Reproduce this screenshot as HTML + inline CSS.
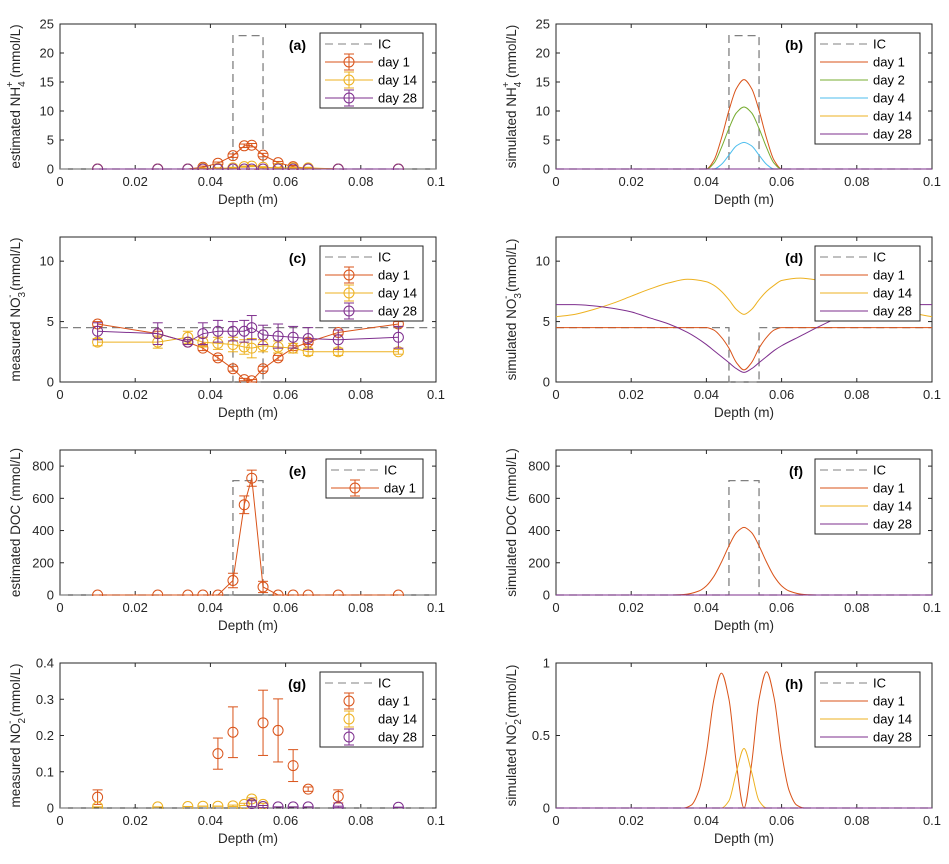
<!DOCTYPE html>
<html><head><meta charset="utf-8"><style>
body{margin:0;background:#fff}
svg{display:block;font-family:"Liberation Sans",sans-serif}
</style></head><body>
<svg id="fig" width="949" height="864" viewBox="0 0 949 864"></svg>
<script>
// ---------- data ----------
const depth = [0.01,0.026,0.034,0.038,0.042,0.046,0.049,0.051,0.054,0.058,0.062,0.066,0.074,0.09];
const icX = [0,0.046,0.046,0.054,0.054,0.1];
const icNH4 = [0,0,23,23,0,0];
const icNO3 = [4.5,4.5,0,0,4.5,4.5];
const icDOC = [0,0,710,710,0,0];
const icNO2 = [0,0,0,0,0,0];
// (a)
const aDay1 = [0,0,0,0.3,1.0,2.3,4.0,4.1,2.4,1.1,0.4,0.1,0,0];
const aDay1Err = [0,0,0,0.2,0.2,0.3,0.3,0.3,0.3,0.2,0.2,0.1,0,0];
const aDay14 = [0,0,0,0.1,0.1,0.2,0.4,0.5,0.3,0.2,0.2,0.2,0,0];
const aDay14Err = [0,0,0,0.1,0.1,0.1,0.1,0.1,0.1,0.1,0.1,0.1,0,0];
const aDay28 = [0,0,0,0,0,0,0,0,0,0,0,0,0,0];
const aDay28Err = [0,0,0,0,0,0,0,0,0,0,0,0,0,0];
// (c)
const cDay1 = [4.8,4.0,3.3,2.8,2.0,1.1,0.2,0.1,1.1,2.0,2.8,3.3,4.1,4.8];
const cDay1Err = [0.2,0.2,0.2,0.2,0.2,0.2,0.1,0.1,0.2,0.2,0.2,0.2,0.2,0.2];
const cDay14 = [3.3,3.3,3.7,3.3,3.2,3.1,2.9,2.8,3.0,2.9,2.8,2.5,2.5,2.5];
const cDay14Err = [0.3,0.5,0.5,0.4,0.5,0.6,0.6,0.8,0.5,0.5,0.4,0.3,0.3,0.2];
const cDay28 = [4.2,4.0,3.3,4.0,4.2,4.2,4.2,4.5,3.9,3.8,3.7,3.6,3.5,3.7];
const cDay28Err = [0.7,0.9,0.2,0.9,0.9,0.8,0.9,1.0,0.8,1.0,0.9,0.9,0.8,0.9];
// (e)
const eDay1 = [0,0,0,0,0,90,560,725,50,0,0,0,0,0];
const eDay1Err = [0,0,0,0,0,45,55,50,35,0,0,0,0,0];
// (g)
const gDay1X = [0.01,0.042,0.046,0.054,0.058,0.062,0.066,0.074];
const gDay1 = [0.03,0.15,0.209,0.235,0.214,0.117,0.052,0.032];
const gDay1Err = [0.02,0.043,0.07,0.09,0.087,0.044,0.006,0.018];
const gDay14X = [0.01,0.026,0.034,0.038,0.042,0.046,0.049,0.051,0.054];
const gDay14 = [0.003,0.003,0.004,0.005,0.005,0.006,0.01,0.025,0.01];
const gDay14Err = [0,0,0,0,0,0.002,0.003,0.003,0.003];
const gDay28X = [0.051,0.054,0.058,0.062,0.066,0.074,0.09];
const gDay28 = [0.012,0.004,0.003,0.003,0.003,0.003,0.002];
const gDay28Err = [0.008,0.003,0,0,0,0.002,0];
// (b)
const bX = [0,0.04,0.042,0.044,0.046,0.048,0.05,0.052,0.054,0.056,0.058,0.06,0.1];
const bDay1 = [0,0,1.5,5.3,10.1,13.9,15.4,13.9,10.1,5.3,1.5,0,0];
const bDay2 = [0,0,1.0,3.7,7.0,9.7,10.7,9.7,7.0,3.7,1.0,0,0];
const bDay4 = [0,0,0,0.8,2.4,4.0,4.6,4.0,2.4,0.8,0,0,0];
const flatX = [0,0.1];
const flatZero = [0,0];
// (d)
const dX = [0,0.005,0.01,0.015,0.02,0.025,0.03,0.035,0.04,0.042,0.044,0.046,0.048,0.05,0.052,0.054,0.056,0.058,0.06,0.065,0.07,0.075,0.08,0.085,0.09,0.095,0.1];
const dDay1 = [4.5,4.5,4.5,4.5,4.5,4.5,4.5,4.5,4.5,4.3,3.7,2.8,1.6,1.0,1.6,2.8,3.7,4.3,4.5,4.5,4.5,4.5,4.5,4.5,4.5,4.5,4.5];
const dDay14 = [5.4,5.6,6.0,6.5,7.1,7.7,8.2,8.5,8.3,8.0,7.5,6.8,6.0,5.6,6.0,6.8,7.5,8.0,8.4,8.6,8.4,8.0,7.4,6.8,6.2,5.7,5.4];
const dDay28 = [6.4,6.4,6.3,6.1,5.8,5.3,4.8,4.1,3.1,2.6,2.1,1.6,1.1,0.8,1.1,1.6,2.1,2.6,3.0,3.8,4.6,5.3,5.8,6.1,6.3,6.4,6.4];
// (f)
const fX = [0,0.03,0.034,0.038,0.04,0.042,0.044,0.046,0.048,0.05,0.052,0.054,0.056,0.058,0.06,0.062,0.066,0.07,0.1];
const fDay1 = [0,0,3,25,57,116,204,305,388,420,388,305,204,116,57,25,3,0,0];
// (h)
const hX = [0,0.034,0.036,0.038,0.04,0.042,0.044,0.046,0.048,0.05,0.052,0.054,0.056,0.058,0.06,0.062,0.064,0.066,0.1];
const hDay1 = [0,0,0.02,0.12,0.38,0.75,0.93,0.75,0.3,0.0,0.3,0.75,0.94,0.76,0.38,0.12,0.02,0,0];
const hDay14X = [0,0.044,0.046,0.048,0.05,0.052,0.054,0.056,0.1];
const hDay14 = [0,0,0.05,0.25,0.41,0.25,0.05,0,0];
const xTicks = [0,0.02,0.04,0.06,0.08,0.1];
const xTickLabels = ["0","0.02","0.04","0.06","0.08","0.1"];

const C1='#D95319',C2='#77AC30',C4='#4DBEEE',C14='#EDB120',C28='#7E2F8E',CIC='#808080';
const NS='http://www.w3.org/2000/svg';
const svg=document.getElementById('fig');
function mk(tag,attrs,parent){const e=document.createElementNS(NS,tag);for(const k in attrs)e.setAttribute(k,attrs[k]);(parent||svg).appendChild(e);return e;}

// monotone cubic (Fritsch-Carlson) – no overshoot
function smoothPath(pts){
  const n=pts.length;
  if(n<3)return 'M'+pts.map(q=>q[0]+','+q[1]).join('L');
  const dx=[],dy=[],m=[];
  for(let i=0;i<n-1;i++){dx.push(pts[i+1][0]-pts[i][0]);dy.push(pts[i+1][1]-pts[i][1]);m.push(dy[i]/dx[i]);}
  const t=[m[0]];
  for(let i=1;i<n-1;i++){
    if(m[i-1]*m[i]<=0)t.push(0);
    else{const w1=2*dx[i]+dx[i-1],w2=dx[i]+2*dx[i-1];t.push((w1+w2)/(w1/m[i-1]+w2/m[i]));}
  }
  t.push(m[n-2]);
  let d='M'+pts[0][0].toFixed(2)+','+pts[0][1].toFixed(2);
  for(let i=0;i<n-1;i++){
    const h=dx[i]/3;
    d+='C'+(pts[i][0]+h).toFixed(2)+','+(pts[i][1]+t[i]*h).toFixed(2)+' '+(pts[i+1][0]-h).toFixed(2)+','+(pts[i+1][1]-t[i+1]*h).toFixed(2)+' '+pts[i+1][0].toFixed(2)+','+pts[i+1][1].toFixed(2);
  }
  return d;
}

function panel(p){
  const L=p.left,T=p.top,W=376,H=145;
  const g=mk('g',{});
  
  
  const sx=v=>L+v/0.1*W, sy=v=>T+H-v/p.ymax*H;
  const clip='clip-'+p.id;
  const cp=mk('clipPath',{id:clip},g);mk('rect',{x:L-1,y:T-1,width:W+2,height:H+2},cp);
  mk('rect',{x:L,y:T,width:W,height:H,fill:'#fff',stroke:'#262626','stroke-width':1},g);
  const ax=mk('g',{stroke:'#262626','stroke-width':1},g);
  
  
  xTicks.forEach((v,i)=>{
    const x=sx(v);
    mk('line',{x1:x,x2:x,y1:T+H,y2:T+H-4},ax);mk('line',{x1:x,x2:x,y1:T,y2:T+4},ax);
    const t=mk('text',{x:x,y:T+H+17,'text-anchor':'middle','font-size':13,fill:'#262626',stroke:'none'},g);
    t.textContent=xTickLabels[i];
    
    
  });
  p.yticks.forEach((v,i)=>{
    const y=sy(v);
    mk('line',{x1:L,x2:L+4,y1:y,y2:y},ax);mk('line',{x1:L+W,x2:L+W-4,y1:y,y2:y},ax);
    const t=mk('text',{x:L-6,y:y+4.5,'text-anchor':'end','font-size':13,fill:'#262626',stroke:'none'},g);
    t.textContent=p.ylabels[i];
    
    
  });
  const xl=mk('text',{x:L+W/2,y:T+H+35,'text-anchor':'middle','font-size':13.5,fill:'#262626'},g);
  xl.textContent='Depth (m)';
  
  
  const yl=mk('text',{x:0,y:0,'text-anchor':'middle','font-size':13.5,fill:'#262626',transform:'translate('+(L-40)+','+(T+H/2)+') rotate(-90)'},g);
  yl.innerHTML=p.ylab;
  
  
  const sg=mk('g',{'clip-path':'url(#'+clip+')'},g);
  p.series.forEach(s=>{
    const se=mk('g',{},sg);
    
    
    const pts=s.x.map((v,i)=>[sx(v),sy(s.y[i])]);
    if(s.line!==false){
      const attrs={fill:'none',stroke:s.color,'stroke-width':s.dash?1.3:1};
      if(s.dash)attrs['stroke-dasharray']='8,5';
      if(s.smooth)attrs.d=smoothPath(pts);
      else attrs.d='M'+pts.map(q=>q[0].toFixed(2)+','+q[1].toFixed(2)).join('L');
      mk('path',attrs,se);
    }
    if(s.err){
      s.x.forEach((v,i)=>{
        const x=sx(v),y1=sy(s.y[i]-s.err[i]),y2=sy(s.y[i]+s.err[i]);
        mk('line',{x1:x,x2:x,y1:y1,y2:y2,stroke:s.color},se);
        mk('line',{x1:x-5,x2:x+5,y1:y1,y2:y1,stroke:s.color},se);
        mk('line',{x1:x-5,x2:x+5,y1:y2,y2:y2,stroke:s.color},se);
      });
    }
    if(s.marker){
      pts.forEach(q=>{const c=mk('circle',{cx:q[0],cy:q[1],r:5,fill:'none',stroke:s.color},se);
        
        });
    }
  });
  const pl=mk('text',{x:p.labX,y:T+26,'text-anchor':'end','font-size':14,'font-weight':'bold',fill:'#000'},g);
  pl.textContent=p.label;
  
  
  const n=p.series.length,lx=p.legX,lw=p.legW,ly=T+9,lh=n*18+3;
  const lg=mk('g',{},g);
  
  
  mk('rect',{x:lx,y:ly,width:lw,height:lh,fill:'#fff',stroke:'#262626'},lg);
  p.series.forEach((s,i)=>{
    const yy=ly+11+i*18;
    const e=mk('g',{},lg);
    
    
    if(s.line!==false||s.dash){
      const a={x1:lx+5,x2:lx+53,y1:yy,y2:yy,stroke:s.color};
      if(s.dash)a['stroke-dasharray']='8,5';
      mk('line',a,e);
    }
    const mx=lx+29;
    if(s.err){mk('line',{x1:mx,x2:mx,y1:yy-8,y2:yy+8,stroke:s.color},e);
      mk('line',{x1:mx-5,x2:mx+5,y1:yy-8,y2:yy-8,stroke:s.color},e);
      mk('line',{x1:mx-5,x2:mx+5,y1:yy+8,y2:yy+8,stroke:s.color},e);}
    if(s.marker)mk('circle',{cx:mx,cy:yy,r:5,fill:'none',stroke:s.color},e);
    const t=mk('text',{x:lx+58,y:yy+4.5,'font-size':13,fill:'#000'},e);
    t.textContent=s.label;
  });
}

const LL=60,RL=556;
const rows=[24,237,450,663];
const nh4y=[0,5,10,15,20,25],nh4l=nh4y.map(String);
const no3y=[0,5,10],no3l=no3y.map(String);
const docy=[0,200,400,600,800],docl=docy.map(String);
const no2y=[0,0.1,0.2,0.3,0.4],no2l=no2y.map(String);
const h1y=[0,0.5,1],h1l=["0","0.5","1"];
const NH='NH<tspan font-size="10" dy="5">4</tspan><tspan font-size="10" dx="-6" dy="-12">+</tspan><tspan dy="7"> (mmol/L)</tspan>';
const NO3='NO<tspan font-size="10" dy="5">3</tspan><tspan font-size="10" dx="-6" dy="-12">-</tspan><tspan dy="7"> (mmol/L)</tspan>';
const NO2='NO<tspan font-size="10" dy="5">2</tspan><tspan font-size="10" dx="-6" dy="-12">-</tspan><tspan dy="7"> (mmol/L)</tspan>';

panel({id:'a',name:'panel-a-estimated-nh4',left:LL,top:rows[0],ymax:25,yticks:nh4y,ylabels:nh4l,ylab:'estimated '+NH,label:'(a)',labX:306,legX:320,legW:103,
 series:[{label:'IC',x:icX,y:icNH4,color:CIC,dash:true},
  {label:'day 1',x:depth,y:aDay1,err:aDay1Err,color:C1,marker:true},
  {label:'day 14',x:depth,y:aDay14,err:aDay14Err,color:C14,marker:true},
  {label:'day 28',x:depth,y:aDay28,err:aDay28Err,color:C28,marker:true}]});
panel({id:'b',name:'panel-b-simulated-nh4',left:RL,top:rows[0],ymax:25,yticks:nh4y,ylabels:nh4l,ylab:'simulated '+NH,label:'(b)',labX:803,legX:815,legW:105,
 series:[{label:'IC',x:icX,y:icNH4,color:CIC,dash:true},
  {label:'day 1',x:bX,y:bDay1,color:C1,smooth:true},
  {label:'day 2',x:bX,y:bDay2,color:C2,smooth:true},
  {label:'day 4',x:bX,y:bDay4,color:C4,smooth:true},
  {label:'day 14',x:flatX,y:flatZero,color:C14},
  {label:'day 28',x:flatX,y:flatZero,color:C28}]});
panel({id:'c',name:'panel-c-measured-no3',left:LL,top:rows[1],ymax:12,yticks:no3y,ylabels:no3l,ylab:'measured '+NO3,label:'(c)',labX:306,legX:320,legW:103,
 series:[{label:'IC',x:icX,y:icNO3,color:CIC,dash:true},
  {label:'day 1',x:depth,y:cDay1,err:cDay1Err,color:C1,marker:true},
  {label:'day 14',x:depth,y:cDay14,err:cDay14Err,color:C14,marker:true},
  {label:'day 28',x:depth,y:cDay28,err:cDay28Err,color:C28,marker:true}]});
panel({id:'d',name:'panel-d-simulated-no3',left:RL,top:rows[1],ymax:12,yticks:no3y,ylabels:no3l,ylab:'simulated '+NO3,label:'(d)',labX:803,legX:815,legW:105,
 series:[{label:'IC',x:icX,y:icNO3,color:CIC,dash:true},
  {label:'day 1',x:dX,y:dDay1,color:C1,smooth:true},
  {label:'day 14',x:dX,y:dDay14,color:C14,smooth:true},
  {label:'day 28',x:dX,y:dDay28,color:C28,smooth:true}]});
panel({id:'e',name:'panel-e-estimated-doc',left:LL,top:rows[2],ymax:900,yticks:docy,ylabels:docl,ylab:'estimated DOC (mmol/L)',label:'(e)',labX:306,legX:326,legW:97,
 series:[{label:'IC',x:icX,y:icDOC,color:CIC,dash:true},
  {label:'day 1',x:depth,y:eDay1,err:eDay1Err,color:C1,marker:true}]});
panel({id:'f',name:'panel-f-simulated-doc',left:RL,top:rows[2],ymax:900,yticks:docy,ylabels:docl,ylab:'simulated DOC (mmol/L)',label:'(f)',labX:803,legX:815,legW:105,
 series:[{label:'IC',x:icX,y:icDOC,color:CIC,dash:true},
  {label:'day 1',x:fX,y:fDay1,color:C1,smooth:true},
  {label:'day 14',x:flatX,y:flatZero,color:C14},
  {label:'day 28',x:flatX,y:flatZero,color:C28}]});
panel({id:'g',name:'panel-g-measured-no2',left:LL,top:rows[3],ymax:0.4,yticks:no2y,ylabels:no2l,ylab:'measured '+NO2,label:'(g)',labX:306,legX:320,legW:103,
 series:[{label:'IC',x:icX,y:icNO2,color:CIC,dash:true},
  {label:'day 1',x:gDay1X,y:gDay1,err:gDay1Err,color:C1,marker:true,line:false},
  {label:'day 14',x:gDay14X,y:gDay14,err:gDay14Err,color:C14,marker:true,line:false},
  {label:'day 28',x:gDay28X,y:gDay28,err:gDay28Err,color:C28,marker:true,line:false}]});
panel({id:'h',name:'panel-h-simulated-no2',left:RL,top:rows[3],ymax:1,yticks:h1y,ylabels:h1l,ylab:'simulated '+NO2,label:'(h)',labX:803,legX:815,legW:105,
 series:[{label:'IC',x:icX,y:icNO2,color:CIC,dash:true},
  {label:'day 1',x:hX,y:hDay1,color:C1,smooth:true},
  {label:'day 14',x:hDay14X,y:hDay14,color:C14,smooth:true},
  {label:'day 28',x:flatX,y:flatZero,color:C28}]});
</script>
</body></html>
